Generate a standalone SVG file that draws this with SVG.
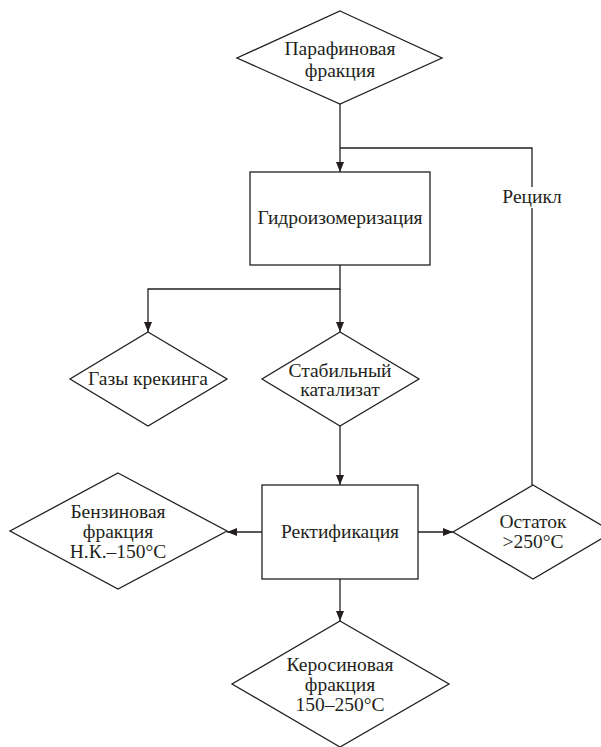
<svg xmlns="http://www.w3.org/2000/svg" width="601" height="747" viewBox="0 0 601 747">
<style>
.s{fill:none;stroke:#231f20;stroke-width:1.3}
.n{fill:#fff;stroke:#231f20;stroke-width:1.3}
text{font-family:"Liberation Serif",Tinos,"Times New Roman","DejaVu Serif",serif;font-size:19.5px;fill:#231f20;text-anchor:middle}
</style>
<defs>
<marker id="a" viewBox="0 0 10 8" refX="10" refY="4" markerWidth="10" markerHeight="8" markerUnits="userSpaceOnUse" orient="auto">
<path d="M0,0 L10,4 L0,8 Z" fill="#231f20"/>
</marker>
</defs>
<rect width="601" height="747" fill="#fff"/>
<g id="connectors">
<path class="s" d="M340,104 V172" marker-end="url(#a)"/>
<path class="s" d="M340,148 H532 V187 M532,208 V485"/>
<path class="s" d="M340,265 V289 H148 V332" marker-end="url(#a)"/>
<path class="s" d="M340,289 V332" marker-end="url(#a)"/>
<path class="s" d="M340,426 V485" marker-end="url(#a)"/>
<path class="s" d="M262,532 H227" marker-end="url(#a)"/>
<path class="s" d="M418,532 H453" marker-end="url(#a)"/>
<path class="s" d="M340,579 V621" marker-end="url(#a)"/>
<text x="532" y="203" font-family="Liberation Serif, serif">Рецикл</text>
</g>
<g id="paraffin">
<polygon class="n" points="340,11 442,58 340,104 237,58"/>
<text x="340" y="55">Парафиновая</text>
<text x="340" y="77">фракция</text>
</g>
<g id="hydro">
<rect class="n" x="250" y="172" width="180" height="93"/>
<text x="340" y="224">Гидроизомеризация</text>
</g>
<g id="gases">
<polygon class="n" points="148,332 227,379 148,426 70,379"/>
<text x="148" y="385">Газы крекинга</text>
</g>
<g id="catalyst">
<polygon class="n" points="340,332 419,379 340,426 262,379"/>
<text x="340" y="377">Стабильный</text>
<text x="340" y="396">катализат</text>
</g>
<g id="rect">
<rect class="n" x="262" y="485" width="156" height="94"/>
<text x="340" y="538">Ректификация</text>
</g>
<g id="gasoline">
<polygon class="n" points="118,473 227,531 118,589 10,531"/>
<text x="118" y="518">Бензиновая</text>
<text x="118" y="538">фракция</text>
<text x="118" y="558">Н.К.–150°С</text>
</g>
<g id="residue">
<polygon class="n" points="533,485 613,532 533,579 453,532"/>
<text x="533" y="528">Остаток</text>
<text x="533" y="548">&gt;250°С</text>
</g>
<g id="kerosene">
<polygon class="n" points="340,621 449,684 340,747 232,684"/>
<text x="340" y="671">Керосиновая</text>
<text x="340" y="691">фракция</text>
<text x="340" y="711">150–250°С</text>
</g>
</svg>
